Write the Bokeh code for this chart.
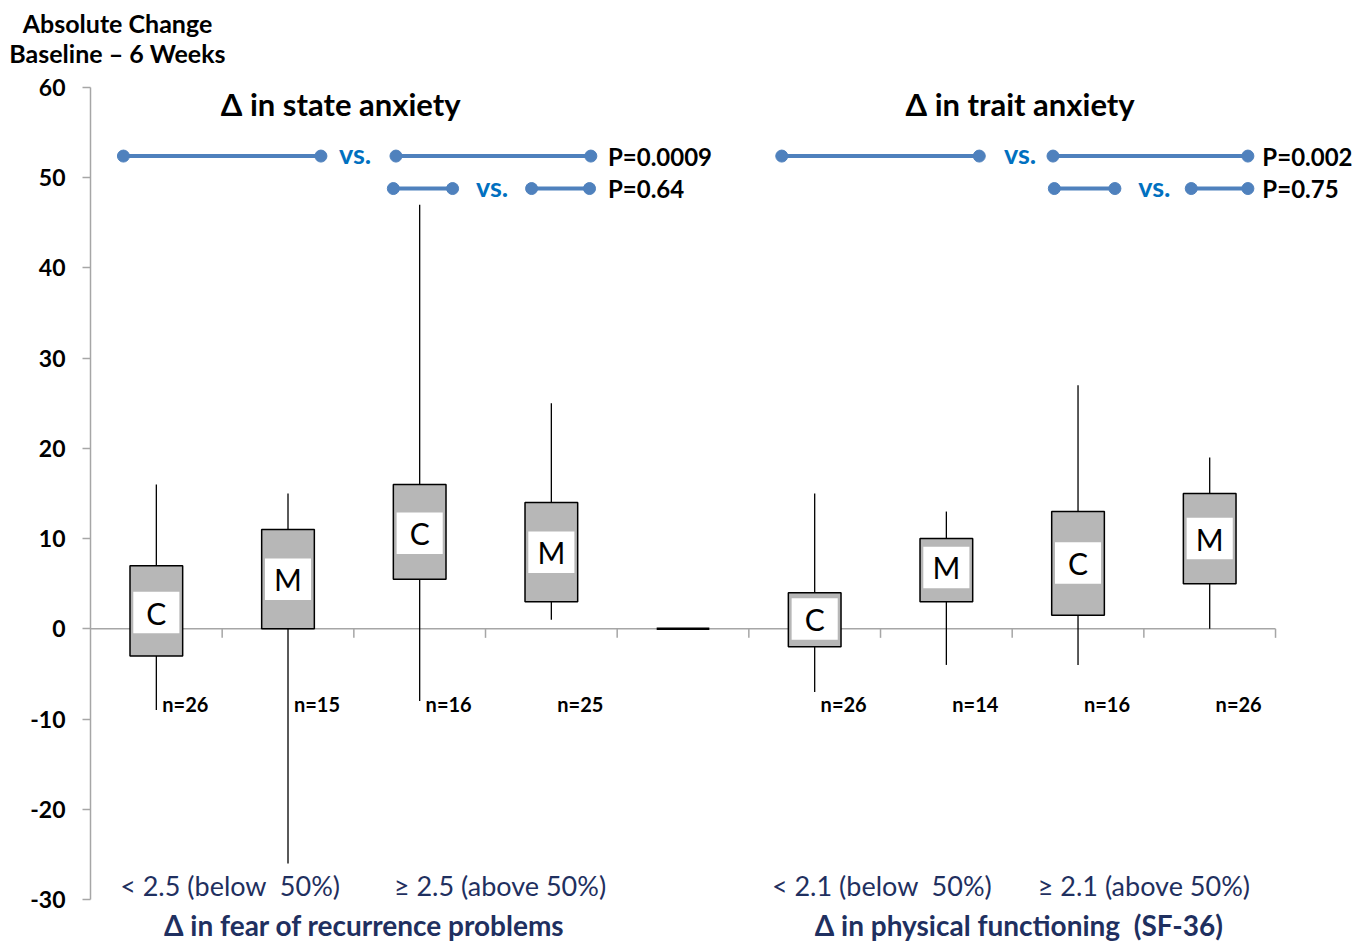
from bokeh.plotting import figure
from bokeh.models import ColumnDataSource, FixedTicker
from bokeh.embed import file_html
from bokeh.resources import INLINE
from bokeh.core.properties import value

# ---------------- data ----------------
slots = [1, 2, 3, 4, 5, 6, 7, 8, 9]
box_letter = ["C", "M", "C", "M", "", "C", "M", "C", "M"]
whisker_low = [-9, -26, -8, 1, 0, -7, -4, -4, 0]
box_q1 = [-3, 0, 5.5, 3, 0, -2, 3, 1.5, 5]
box_q3 = [7, 11, 16, 14, 0, 4, 10, 13, 15]
whisker_high = [16, 15, 47, 25, 0, 15, 13, 27, 19]
letter_y = [1.8, 5.5, 10.6, 8.5, 0, 1.1, 6.8, 7.3, 10.0]
n_labels = ["n=26", "n=15", "n=16", "n=25", "", "n=26", "n=14", "n=16", "n=26"]

y_ticks = [-30, -20, -10, 0, 10, 20, 30, 40, 50, 60]
y_tick_labels = [str(t) for t in y_ticks]

NB = "\u00a0"
panel_titles = ["\u0394 in state anxiety", "\u0394 in trait anxiety"]
group_labels = ["<" + NB + "2.5 (below" + NB + NB + "50%)",
                "\u2265" + NB + "2.5 (above" + NB + "50%)",
                "<" + NB + "2.1 (below" + NB + NB + "50%)",
                "\u2265" + NB + "2.1 (above" + NB + "50%)"]
axis_titles = ["\u0394 in fear of recurrence problems",
               "\u0394 in physical functioning" + NB + NB + "(SF-36)"]
y_title = ["Absolute Change", "Baseline \u2013 6 Weeks"]
p_values = ["P=0.0009", "P=0.64", "P=0.002", "P=0.75"]
cmp_level = [52.4, 48.8, 52.4, 48.8]

# ---------------- layout ----------------
FONT = "Lato"
NAVY = "#1F3060"
BLUE = "#4F81BD"
VS_BLUE = "#0070C0"
AX_GRAY = "#A6A6A6"
PX_PER_SLOT = 131.67
PX_PER_UNIT = 9.0222
AXIS_PX = 90
ZERO_PX = 628.33
W, H = 1365, 944
x_start = 0.5 - AXIS_PX / PX_PER_SLOT
x_end = 0.5 + (W - AXIS_PX) / PX_PER_SLOT
y_top = ZERO_PX / PX_PER_UNIT
y_bot = -(H - ZERO_PX) / PX_PER_UNIT

p = figure(width=W, height=H, output_backend="svg", toolbar_location=None,
           x_range=(x_start, x_end), y_range=(y_bot, y_top),
           min_border_left=0, min_border_right=0, min_border_top=0,
           min_border_bottom=0, x_axis_location=None)
p.outline_line_color = None
p.grid.visible = False
p.background_fill_color = "white"
p.border_fill_color = "white"

ya = p.yaxis[0]
ya.fixed_location = 0.5
ya.ticker = FixedTicker(ticks=y_ticks)
ya.major_label_overrides = dict(zip(y_ticks, y_tick_labels))
ya.bounds = (-30, 60)
ya.axis_line_color = AX_GRAY
ya.axis_line_width = 1.5
ya.major_tick_line_color = AX_GRAY
ya.major_tick_line_width = 1.5
ya.major_tick_out = 8
ya.major_tick_in = 0
ya.minor_tick_line_color = None
ya.major_label_text_font = FONT
ya.major_label_text_font_style = "bold"
ya.major_label_text_font_size = "23px"
ya.major_label_text_color = "black"
ya.major_label_standoff = 17

# zero axis with hanging ticks
p.segment(x0=[0.5], y0=[0], x1=[len(slots) + 0.5], y1=[0],
          line_color=AX_GRAY, line_width=1.5)
tick_x = [s + 0.5 for s in slots]
p.segment(x0=tick_x, y0=[0] * len(tick_x), x1=tick_x, y1=[-1.0] * len(tick_x),
          line_color=AX_GRAY, line_width=1.5)

src = ColumnDataSource(dict(x=slots, low=whisker_low, q1=box_q1, q3=box_q3,
                            high=whisker_high, n=n_labels,
                            nx=[s + 0.22 for s in slots],
                            ny=[-8.3] * len(slots),
                            lw=[2.5 if q1 == q3 else 1.5 for q1, q3 in zip(box_q1, box_q3)]))
p.segment(x0="x", y0="low", x1="x", y1="high", source=src,
          line_color="black", line_width=1.3)
p.vbar(x="x", width=0.4, bottom="q1", top="q3", source=src,
       fill_color="#B7B7B7", line_color="black", line_width="lw")

lab_idx = [i for i, l in enumerate(box_letter) if l]
lsrc = ColumnDataSource(dict(x=[slots[i] for i in lab_idx],
                             y=[letter_y[i] for i in lab_idx],
                             t=[box_letter[i] for i in lab_idx]))
p.rect(x="x", y="y", width=0.35, height=4.6, source=lsrc,
       fill_color="white", line_color=None)
p.text(x="x", y="y", text="t", source=lsrc, text_font=value(FONT),
       text_font_size="30px", text_align="center", text_baseline="middle",
       text_color="black")

p.text(x="nx", y="ny", text="n", source=src, text_font=value(FONT),
       text_font_size="20px", text_font_style="bold", text_align="center",
       text_baseline="middle", text_color="black")

# comparison brackets
seg_a0 = [0.75, 2.80, 5.75, 7.82]
seg_a1 = [2.25, 3.25, 7.25, 8.28]
seg_b0 = [2.82, 3.85, 7.81, 8.86]
seg_b1 = [4.30, 4.29, 9.29, 9.29]
vs_x = [2.51, 3.55, 7.56, 8.58]
p_x = [4.43, 4.43, 9.40, 9.40]
for a0, a1, b0, b1, lv in zip(seg_a0, seg_a1, seg_b0, seg_b1, cmp_level):
    p.segment(x0=[a0, b0], y0=[lv, lv], x1=[a1, b1], y1=[lv, lv],
              line_color=BLUE, line_width=4)
    p.scatter(x=[a0, a1, b0, b1], y=[lv] * 4, size=12, fill_color=BLUE,
              line_color=BLUE)
p.text(x=vs_x, y=[v + 0.25 for v in cmp_level], text=["vs."] * 4,
       text_font=value(FONT), text_font_size="27px", text_font_style="bold",
       text_color=VS_BLUE, text_align="center", text_baseline="middle")
p.text(x=p_x, y=cmp_level, text=p_values, text_font=value(FONT),
       text_font_size="24px", text_font_style="bold", text_color="black",
       text_align="left", text_baseline="middle")

# titles
p.text(x=[2.40, 7.56], y=[58.2, 58.2], text=panel_titles, text_font=value(FONT),
       text_font_size="31px", text_font_style="bold", text_color="black",
       text_align="center", text_baseline="middle")
p.text(x=[1.56, 3.61, 6.51, 8.50], y=[-28.4] * 4, text=group_labels,
       text_font=value(FONT), text_font_size="27px", text_color=NAVY,
       text_align="center", text_baseline="middle")
p.text(x=[2.58, 7.55], y=[-32.85, -32.85], text=axis_titles, text_font=value(FONT),
       text_font_size="28px", text_font_style="bold", text_color=NAVY,
       text_align="center", text_baseline="middle")
p.text(x=[0.705, 0.705], y=[67.2, 63.8], text=y_title, text_font=value(FONT),
       text_font_size="25px", text_font_style="bold", text_color="black",
       text_align="center", text_baseline="middle")

open("out.html", "w").write(file_html(p, INLINE))
